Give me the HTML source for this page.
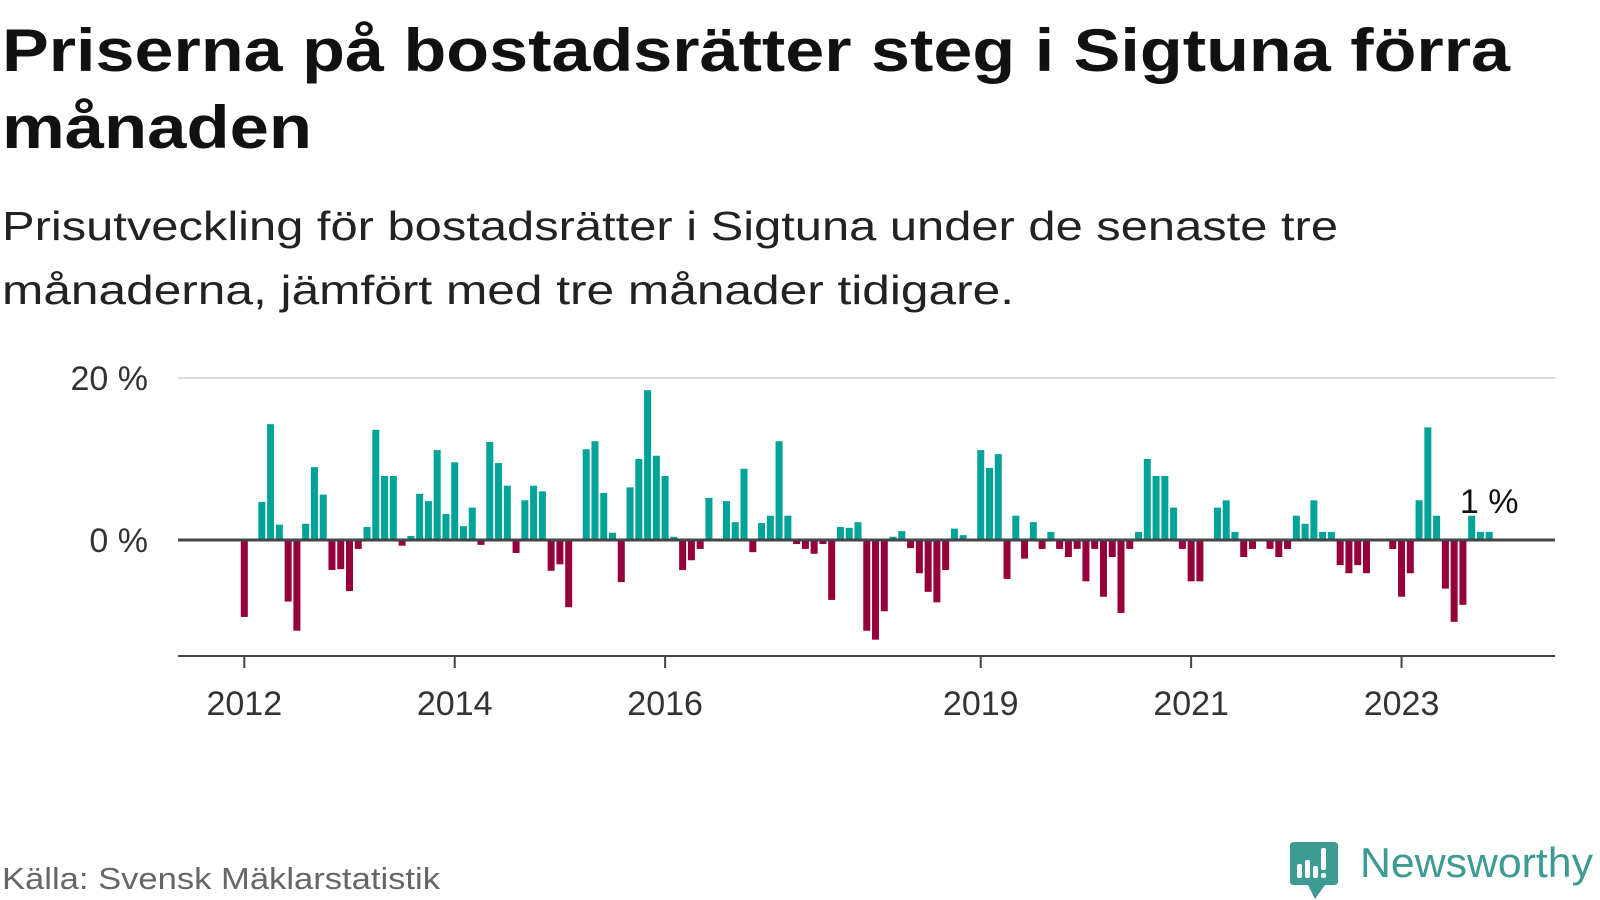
<!DOCTYPE html>
<html><head><meta charset="utf-8"><style>
html,body{margin:0;padding:0;background:#fff;}
svg{display:block;font-family:"Liberation Sans",sans-serif;}
</style></head><body>
<svg id="chart" width="1600" height="900" viewBox="0 0 1600 900" xmlns="http://www.w3.org/2000/svg">
<text x="2" y="71" font-size="60" font-weight="bold" fill="#111" textLength="1508" lengthAdjust="spacingAndGlyphs">Priserna på bostadsrätter steg i Sigtuna förra</text>
<text x="2" y="148" font-size="60" font-weight="bold" fill="#111" textLength="310" lengthAdjust="spacingAndGlyphs">månaden</text>
<text x="2" y="240" font-size="41" fill="#222" textLength="1336" lengthAdjust="spacingAndGlyphs">Prisutveckling för bostadsrätter i Sigtuna under de senaste tre</text>
<text x="2" y="304" font-size="41" fill="#222" textLength="1012" lengthAdjust="spacingAndGlyphs">månaderna, jämfört med tre månader tidigare.</text>
<g id="plot"></g>
<text x="2" y="889" font-size="31" fill="#666" textLength="438" lengthAdjust="spacingAndGlyphs">Källa: Svensk Mäklarstatistik</text>
<g>
<path d="M1294 842 H1334 Q1338 842 1338 846 V881 Q1338 885 1334 885 H1325 L1315 899 L1308 885 H1294 Q1290 885 1290 881 V846 Q1290 842 1294 842 Z" fill="#3d9b93"/>
<rect x="1297" y="864" width="5" height="14" rx="2" fill="#fff"/>
<rect x="1305" y="860" width="5" height="18" rx="2" fill="#fff"/>
<rect x="1313" y="866" width="5" height="12" rx="2" fill="#fff"/>
<rect x="1321" y="848" width="5" height="22" rx="2" fill="#fff"/>
<rect x="1321" y="873" width="5" height="5" rx="2" fill="#fff"/>
<text x="1360" y="877" font-size="42" fill="#3d9b93" textLength="233" lengthAdjust="spacingAndGlyphs">Newsworthy</text>
</g>
</svg>
<script>
const values = [-9.5,0,4.7,14.3,1.9,-7.6,-11.2,2.0,9.0,5.6,-3.7,-3.6,-6.3,-1.1,1.6,13.6,7.9,7.9,-0.7,0.5,5.7,4.8,11.1,3.2,9.6,1.7,4.0,-0.6,12.1,9.5,6.7,-1.6,4.9,6.7,6.0,-3.8,-3.0,-8.3,0,11.2,12.2,5.8,0.9,-5.2,6.5,10.0,18.5,10.4,7.9,0.4,-3.7,-2.5,-1.1,5.2,0,4.8,2.2,8.8,-1.5,2.1,3.0,12.2,3.0,-0.5,-1.1,-1.7,-0.5,-7.4,1.6,1.5,2.2,-11.2,-12.3,-8.8,0.4,1.1,-1.0,-4.1,-6.4,-7.7,-3.7,1.4,0.6,0,11.1,8.9,10.6,-4.8,3.0,-2.3,2.2,-1.1,1.0,-1.1,-2.1,-1.1,-5.1,-1.1,-7.0,-2.1,-9.0,-1.1,1.0,10.0,7.9,7.9,4.0,-1.1,-5.1,-5.1,0,4.0,4.9,1.0,-2.1,-1.1,0,-1.1,-2.1,-1.1,3.0,2.0,4.9,1.0,1.0,-3.1,-4.1,-3.1,-4.1,0,0,-1.1,-7.0,-4.1,4.9,13.9,3.0,-6.0,-10.1,-8.0,3.0,1.0,1.0];
const startYear = 2012;
const yearTicks = [2012,2014,2016,2019,2021,2023];
const yTicks = [0,20];
const lastLabel = "1 %";

const NS="http://www.w3.org/2000/svg";
const g=document.getElementById('plot');
const x=i=>244.3+8.767*i;
const xYear=yr=>x((yr-startYear)*12);
const y=v=>540-v*8.1;
function el(t,a){const e=document.createElementNS(NS,t);for(const k in a)e.setAttribute(k,a[k]);g.appendChild(e);return e;}
yTicks.forEach(t=>{
  if(t!==0){const l=el('line',{x1:178,x2:1555,y1:y(t),y2:y(t),stroke:'#ddd','stroke-width':2});
  
  }
  const tx=el('text',{x:148,y:y(t)+12,'font-size':34,fill:'#333','text-anchor':'end'});
  tx.textContent=t+' %';
  
  
});
values.forEach((v,i)=>{
  if(v===0)return;
  const r=el('rect',{x:x(i)-3.5,width:7,y:Math.min(y(v),y(0)),height:Math.abs(y(v)-y(0)),fill:v>0?'#00a398':'#95003b'});
  
  
});
const z=el('line',{x1:178,x2:1555,y1:y(0),y2:y(0),stroke:'#444','stroke-width':3});


const ax=el('line',{x1:178,x2:1555,y1:656,y2:656,stroke:'#444','stroke-width':2});


yearTicks.forEach(yr=>{
  const t=el('line',{x1:xYear(yr),x2:xYear(yr),y1:656,y2:668,stroke:'#444','stroke-width':2});
  
  
  const l=el('text',{x:xYear(yr),y:715,'font-size':34,fill:'#333','text-anchor':'middle'});
  l.textContent=yr;
  
  
});
const ll=el('text',{x:x(values.length-1),y:513,'font-size':34,fill:'#111','text-anchor':'middle'});
ll.textContent=lastLabel;


</script>
</body></html>
